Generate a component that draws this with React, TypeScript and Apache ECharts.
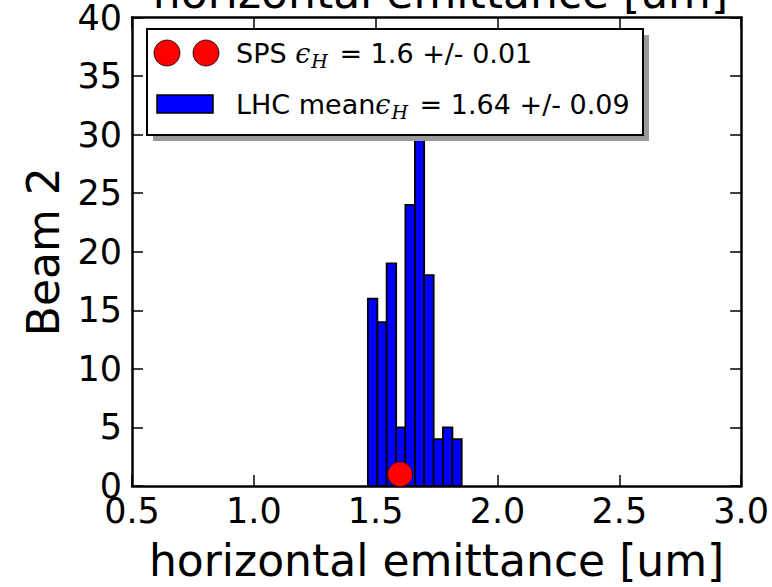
import React, { useEffect, useRef } from 'react';
import * as echarts from 'echarts';

// histogram bin edges (um) and LHC counts per bin
const binEdges = [1.468, 1.507, 1.545, 1.584, 1.622, 1.661, 1.699, 1.738, 1.776, 1.815, 1.853];
const lhcCounts = [16, 14, 19, 5, 24, 33, 18, 4, 5, 4];
// SPS measurement point [emittance, y]
const spsPoints = [[1.6, 1]];

const xTickMin = 0.5;
const xTickMax = 3.0;
const xTickStep = 0.5;
const yTickMin = 0;
const yTickMax = 40;
const yTickStep = 5;

const titleText = 'horizontal emittance [um]';
const xAxisName = 'horizontal emittance [um]';
const yAxisName = 'Beam 2';
const legendSps = 'SPS {e|ϵ}{s|H} = 1.6 +/- 0.01';
const legendLhc = 'LHC mean{e|ϵ}{s|H} = 1.64 +/- 0.09';

const FONT = 'DejaVu Sans';

export default function App() {
  const ref = useRef<HTMLDivElement>(null);
  useEffect(() => {
    if (!ref.current) return;
    const chart = echarts.init(ref.current, null, { renderer: 'svg' });
    const histData = lhcCounts.map((c, i) => [binEdges[i], binEdges[i + 1], c]);
    const axisLine = { show: true, onZero: false, lineStyle: { color: '#000', width: 2.5 } };
    const axisTick = { show: true, inside: true, length: 11, lineStyle: { color: '#000', width: 1.5 } };
    const richText = {
      e: { fontFamily: 'DejaVu Serif', fontStyle: 'italic', fontSize: 27, lineHeight: 34, fill: '#000' },
      s: { fontFamily: 'DejaVu Serif', fontStyle: 'italic', fontSize: 19, lineHeight: 18, verticalAlign: 'bottom', fill: '#000', padding: [0, 3, 0, 1] },
    };
    chart.setOption({
      animation: false,
      backgroundColor: '#fff',
      grid: { left: 132, top: 15, width: 617, height: 475, containLabel: false },
      xAxis: [
        {
          type: 'value', min: xTickMin, max: xTickMax, interval: xTickStep, position: 'bottom',
          axisLine, axisTick, splitLine: { show: false },
          axisLabel: { color: '#000', fontSize: 35, fontFamily: FONT, margin: 7, formatter: (v: number) => v.toFixed(1) },
          name: xAxisName, nameLocation: 'middle', nameGap: 52,
          nameTextStyle: { color: '#000', fontSize: 44, fontFamily: FONT },
        },
        {
          type: 'value', min: xTickMin, max: xTickMax, interval: xTickStep, position: 'top',
          axisLine, axisTick, splitLine: { show: false }, axisLabel: { show: false },
        },
      ],
      yAxis: [
        {
          type: 'value', min: yTickMin, max: yTickMax, interval: yTickStep, position: 'left',
          axisLine, axisTick, splitLine: { show: false },
          axisLabel: { color: '#000', fontSize: 35, fontFamily: FONT, margin: 10 },
          name: yAxisName, nameLocation: 'middle', nameGap: 67,
          nameTextStyle: { color: '#000', fontSize: 44, fontFamily: FONT },
        },
        {
          type: 'value', min: yTickMin, max: yTickMax, interval: yTickStep, position: 'right',
          axisLine, axisTick, splitLine: { show: false }, axisLabel: { show: false },
        },
      ],
      series: [
        {
          type: 'custom',
          xAxisIndex: 0, yAxisIndex: 0,
          data: histData,
          encode: { x: [0, 1], y: 2 },
          renderItem: (params: any, api: any) => {
            const p0 = api.coord([api.value(0), api.value(2)]);
            const p1 = api.coord([api.value(1), 0]);
            return {
              type: 'rect',
              shape: { x: p0[0], y: p0[1], width: p1[0] - p0[0], height: p1[1] - p0[1] },
              style: { fill: '#0000ff', stroke: '#000', lineWidth: 1.8 },
            };
          },
          z: 2,
        },
        {
          type: 'scatter',
          xAxisIndex: 0, yAxisIndex: 0,
          data: spsPoints,
          symbol: 'circle',
          symbolSize: 25,
          itemStyle: { color: '#ff0000', borderColor: '#000', borderWidth: 0.6, opacity: 1 },
          z: 3,
        },
      ],
      graphic: [
        {
          type: 'text', x: 440.5, y: -8, z: 100,
          style: { text: titleText, fontSize: 44, fontFamily: FONT, fill: '#000', align: 'center', verticalAlign: 'middle' },
        },
        { type: 'rect', z: 100, shape: { x: 153, y: 35, width: 496, height: 106 }, style: { fill: '#9a9a9a' } },
        { type: 'rect', z: 101, shape: { x: 147, y: 29, width: 496, height: 106 }, style: { fill: '#fff', stroke: '#000', lineWidth: 2 } },
        { type: 'circle', z: 102, shape: { cx: 167, cy: 53, r: 13 }, style: { fill: '#ff0000', stroke: '#000', lineWidth: 0.8 } },
        { type: 'circle', z: 102, shape: { cx: 206, cy: 53, r: 13 }, style: { fill: '#ff0000', stroke: '#000', lineWidth: 0.8 } },
        { type: 'rect', z: 102, shape: { x: 157, y: 95, width: 56, height: 18 }, style: { fill: '#0000ff', stroke: '#000', lineWidth: 1.5 } },
        {
          type: 'text', x: 236, y: 53, z: 102,
          style: { text: legendSps, fontSize: 27, fontFamily: FONT, fill: '#000', verticalAlign: 'middle', lineHeight: 34, rich: richText },
        },
        {
          type: 'text', x: 236, y: 104, z: 102,
          style: { text: legendLhc, fontSize: 27, fontFamily: FONT, fill: '#000', verticalAlign: 'middle', lineHeight: 34, rich: richText },
        },
      ],
    });
    return () => chart.dispose();
  }, []);
  return <div ref={ref} style={{ position: 'fixed', left: 0, top: 0, width: 772, height: 587 }} />;
}
